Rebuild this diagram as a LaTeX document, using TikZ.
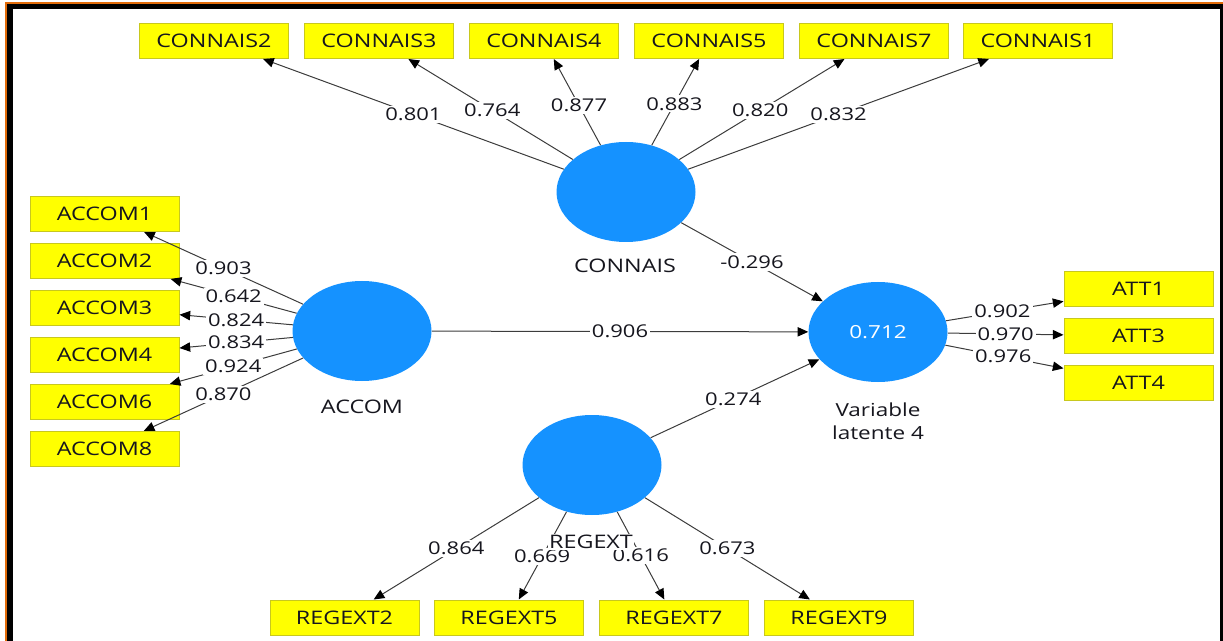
\documentclass[tikz,border=0pt]{standalone}
\usepackage{fontspec}
\setmainfont{Open Sans}[FakeStretch=1.25]
\usetikzlibrary{shapes.geometric,arrows.meta}
\definecolor{lvblue}{RGB}{21,146,255}
\definecolor{mvfill}{RGB}{255,255,0}
\definecolor{mvline}{RGB}{200,200,30}
\definecolor{edgegray}{RGB}{60,60,60}
\definecolor{inkdark}{RGB}{22,22,30}
\definecolor{frameorange}{RGB}{226,108,10}
\begin{document}
\begin{tikzpicture}[x=0.75pt,y=-0.75pt,
  latent/.style={ellipse, fill=lvblue, draw=none, minimum width=104.25pt,
    minimum height=75pt, inner sep=0pt},
  indicator/.style={rectangle, fill=mvfill, draw=mvline, line width=0.75pt,
    minimum width=111.75pt, minimum height=26.25pt, inner sep=0pt,
    font=\fontsize{14}{16}\selectfont, text=inkdark},
  lvname/.style={font=\fontsize{14}{17}\selectfont, text=inkdark, align=center},
  load/.style={draw=edgegray, line width=0.75pt,
    -{Triangle[length=8pt,width=7pt,color=black]}},
  coef/.style={fill=white, inner sep=1.5pt, font=\fontsize{13.2}{15}\selectfont,
    text=inkdark, pos=0.5},
]
\useasboundingbox (0,0) rectangle (1223,641);
% window frame
\fill[frameorange] (5,2.5) rectangle (1223,4);
\fill[frameorange] (5,2.5) rectangle (7,641);
\fill[black] (7,4) rectangle (1223,9.3);
\fill[black] (7,4) rectangle (12.7,641);
\fill[black] (1220,4) rectangle (1223,641);

% latent variables
\node[latent] (CON) at (626,192) {};
\node[latent] (ACC) at (362,331) {};
\node[latent, text=white, font=\fontsize{13.5}{15}\selectfont] (VL) at (878,332) {0.712};
\node[latent] (REG) at (592,465) {};

\node[lvname] (nCON) at (625,266) {CONNAIS};
\node[lvname] (nACC) at (362,407) {ACCOM};
\node[lvname, font=\fontsize{13.5}{17}\selectfont] (nVL) at (878,421) {Variable\\latente 4};

% CONNAIS indicators
\node[indicator] (c2) at (214,41) {CONNAIS2};
\node[indicator] (c3) at (379,41) {CONNAIS3};
\node[indicator] (c4) at (544,41) {CONNAIS4};
\node[indicator] (c5) at (709,41) {CONNAIS5};
\node[indicator] (c7) at (874,41) {CONNAIS7};
\node[indicator] (c1) at (1038,41) {CONNAIS1};

% ACCOM indicators
\node[indicator] (a1) at (104.5,214) {ACCOM1};
\node[indicator] (a2) at (104.5,261) {ACCOM2};
\node[indicator] (a3) at (104.5,308) {ACCOM3};
\node[indicator] (a4) at (104.5,355) {ACCOM4};
\node[indicator] (a6) at (104.5,402) {ACCOM6};
\node[indicator] (a8) at (104.5,449) {ACCOM8};

% ATT indicators
\node[indicator] (t1) at (1138.5,289) {ATT1};
\node[indicator] (t3) at (1138.5,336) {ATT3};
\node[indicator] (t4) at (1138.5,383) {ATT4};

% REGEXT indicators
\node[indicator] (r2) at (344.5,617.5) {REGEXT2};
\node[indicator] (r5) at (509,617.5) {REGEXT5};
\node[indicator] (r7) at (674,617.5) {REGEXT7};
\node[indicator] (r9) at (839,617.5) {REGEXT9};

% outer loadings
\draw[load] (CON) -- node[coef] (lc2) {0.801} (c2);
\draw[load] (CON) -- node[coef, pos=0.49] (lc3) {0.764} (c3);
\draw[load] (CON) -- node[coef, pos=0.46] (lc4) {0.877} (c4);
\draw[load] (CON) -- node[coef, pos=0.48] (lc5) {0.883} (c5);
\draw[load] (CON) -- node[coef, pos=0.49] (lc7) {0.820} (c7);
\draw[load] (CON) -- node[coef] (lc1) {0.832} (c1);

\draw[load] (ACC) -- node[coef] (la1) {0.903} (a1);
\draw[load] (ACC) -- node[coef] (la2) {0.642} (a2);
\draw[load] (ACC) -- node[coef] (la3) {0.824} (a3);
\draw[load] (ACC) -- node[coef] (la4) {0.834} (a4);
\draw[load] (ACC) -- node[coef] (la6) {0.924} (a6);
\draw[load] (ACC) -- node[coef] (la8) {0.870} (a8);

\draw[load] (VL) -- node[coef, pos=0.48] (lt1) {0.902} (t1);
\draw[load] (VL) -- node[coef] (lt3) {0.970} (t3);
\draw[load] (VL) -- node[coef, pos=0.49] (lt4) {0.976} (t4);

\draw[load] (REG) -- node[coef] (lr2) {0.864} (r2);
\draw[load] (REG) -- node[coef, pos=0.51] (lr5) {0.669} (r5);
\draw[load] (REG) -- node[coef] (lr7) {0.616} (r7);
\draw[load] (REG) -- node[coef] (lr9) {0.673} (r9);

% path coefficients
\draw[load] (CON) -- node[coef] (pCON) {-0.296} (VL);
\draw[load] (ACC) -- node[coef] (pACC) {0.906} (VL);
\draw[load] (REG) -- node[coef, pos=0.49] (pREG) {0.274} (VL);

\node[lvname, fill=white, inner sep=0.5pt] (nREG) at (591,542) {REGEXT};
\end{tikzpicture}
\end{document}
